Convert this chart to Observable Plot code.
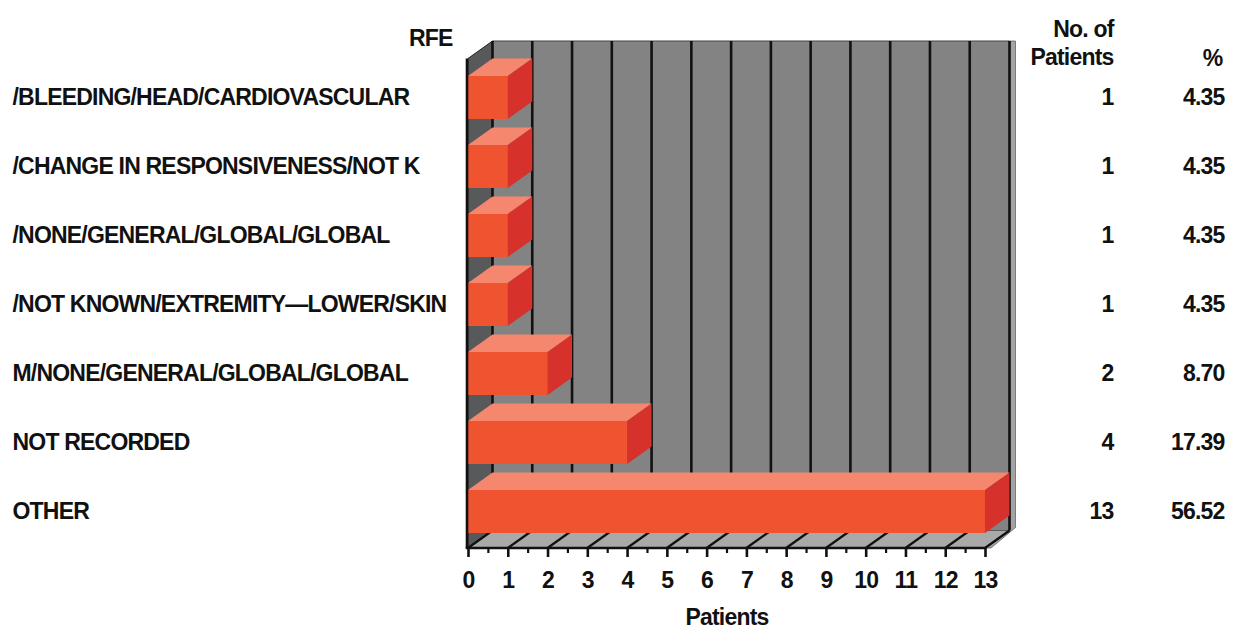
<!DOCTYPE html>
<html><head><meta charset="utf-8">
<script src="https://cdn.jsdelivr.net/npm/d3@7"></script>
<script src="https://cdn.jsdelivr.net/npm/@observablehq/plot@0.6"></script>
<style>
html,body{margin:0;padding:0;background:#fff;}
#chart svg{display:block;}
</style></head><body><div id="chart"></div>
<script>
const categories = [
  "/BLEEDING/HEAD/CARDIOVASCULAR",
  "/CHANGE IN RESPONSIVENESS/NOT K",
  "/NONE/GENERAL/GLOBAL/GLOBAL",
  "/NOT KNOWN/EXTREMITY\u2014LOWER/SKIN",
  "M/NONE/GENERAL/GLOBAL/GLOBAL",
  "NOT RECORDED",
  "OTHER"
];
const patients = [1, 1, 1, 1, 2, 4, 13];
const percents = ["4.35", "4.35", "4.35", "4.35", "8.70", "17.39", "56.52"];
const xTicks = [0,1,2,3,4,5,6,7,8,9,10,11,12,13];
const minorTicks = [0.5,1.5,2.5,3.5,4.5,5.5,6.5,7.5,8.5,9.5,10.5,11.5,12.5];
const yTitle = "RFE";
const countTitle = ["No. of", "Patients"];
const pctTitle = "%";
const xTitle = "Patients";

const rows = categories.map((rfe, i) => ({rfe, n: patients[i], pct: percents[i]}));

const DX = 24.5, DY = 17.5;
const FONT = "'Liberation Sans', Arial, Helvetica, sans-serif";
const C = {front: "#ef532f", top: "#f5876e", side: "#d7312b", back: "#838383", left: "#58595b", floor: "#a9a9a9", strip: "#a3a3a3", ink: "#111"};

function pts(a) { return a.map(p => p[0].toFixed(2) + "," + p[1].toFixed(2)).join(" "); }

function frameRender(index, scales, values, dimensions) {
  const x = scales.x, y = scales.y;
  const x0 = x(0), x1 = x(13);
  const fTop = y(categories[0]) - DY;
  const fBot = dimensions.height - dimensions.marginBottom;
  const g = d3.create("svg:g");
  const poly = (p, fill, stroke, sw) => g.append("polygon").attr("points", pts(p)).attr("fill", fill).attr("stroke", stroke || "none").attr("stroke-width", sw || 0).attr("stroke-linejoin", "round");
  poly([[x1 + DX, fTop - DY], [x1 + DX + 6, fTop - DY], [x1 + DX + 6, fBot - DY - 3], [x1 + 6, fBot], [x1, fBot], [x1 + DX, fBot - DY]], C.strip, "#666", 0.8);
  poly([[x0 + DX, fTop - DY], [x1 + DX, fTop - DY], [x1 + DX, fBot - DY], [x0 + DX, fBot - DY]], C.back, "#444", 1);
  poly([[x0, fTop], [x0 + DX, fTop - DY], [x0 + DX, fBot - DY], [x0, fBot]], C.left, "#222", 1);
  for (const i of index) {
    const xi = values.x[i];
    g.append("line").attr("x1", xi + DX).attr("x2", xi + DX).attr("y1", fTop - DY).attr("y2", fBot - DY)
      .attr("stroke", C.ink).attr("stroke-width", 2.6);
  }
  poly([[x0, fBot], [x1, fBot], [x1 + DX, fBot - DY], [x0 + DX, fBot - DY]], C.floor, "#555", 0.8);
  for (const i of index) {
    const xi = values.x[i];
    g.append("line").attr("x1", xi).attr("x2", xi + DX).attr("y1", fBot).attr("y2", fBot - DY)
      .attr("stroke", C.ink).attr("stroke-width", 2.2);
  }
  return g.node();
}

function frontEdgeRender(index, scales, values, dimensions) {
  const x = scales.x, y = scales.y;
  const x0 = x(0), x1 = x(13);
  const fTop = y(categories[0]) - DY;
  const fBot = dimensions.height - dimensions.marginBottom;
  const g = d3.create("svg:g");
  g.append("line").attr("x1", x0 - 1).attr("x2", x0 - 1).attr("y1", fTop).attr("y2", fBot)
    .attr("stroke", C.ink).attr("stroke-width", 2.6);
  g.append("line").attr("x1", x0 - 2.3).attr("x2", x1 + 1).attr("y1", fBot).attr("y2", fBot)
    .attr("stroke", C.ink).attr("stroke-width", 2.6);
  return g.node();
}

function barRender(index, scales, values, dimensions, context, next) {
  const g = next(index, scales, values, dimensions, context);
  const r = g.querySelector("rect");
  const bw = r ? +r.getAttribute("height") : 0;
  const sel = d3.select(g);
  for (const i of index) {
    const xa = values.x1[i], xb = values.x2[i], yt = values.y[i], yb = yt + bw;
    sel.append("polygon").attr("points", pts([[xa, yt], [xb, yt], [xb + DX, yt - DY], [xa + DX, yt - DY]])).attr("fill", C.top);
    sel.append("polygon").attr("points", pts([[xb, yt], [xb + DX, yt - DY], [xb + DX, yb - DY], [xb, yb]])).attr("fill", C.side);
  }
  return g;
}

const chart = Plot.plot({
  width: 1235,
  height: 639,
  marginTop: 0,
  marginLeft: 468,
  marginRight: 250,
  marginBottom: 91,
  style: {fontFamily: FONT, fontSize: "23px", fontWeight: "bold", color: C.ink, letterSpacing: "-0.8px", background: "#fff"},
  x: {domain: [0, 13], range: [468, 985], axis: null},
  y: {domain: categories, range: [75, 533], paddingInner: 0.378, paddingOuter: 0, axis: null},
  marks: [
    Plot.ruleX(xTicks, {x: d => d, render: frameRender}),
    Plot.barX(rows, {x1: 0, x2: "n", y: "rfe", fill: C.front, render: barRender}),
    Plot.ruleX([0], {x: d => d, render: frontEdgeRender}),
    Plot.axisX(xTicks, {tickSize: 9, tickPadding: 14, strokeWidth: 2.6, stroke: C.ink, fill: C.ink, label: null, fontSize: 23}),
    Plot.axisX(minorTicks, {tickSize: 5, tickFormat: () => "", strokeWidth: 2.2, stroke: C.ink, label: null}),
    Plot.text(rows, {y: "rfe", x: 0, text: "rfe", dx: -456, textAnchor: "start", fill: C.ink}),
    Plot.text(rows, {y: "rfe", x: 13, text: d => String(d.n), dx: 128, textAnchor: "end", fill: C.ink}),
    Plot.text(rows, {y: "rfe", x: 13, text: "pct", dx: 239, textAnchor: "end", fill: C.ink}),
    Plot.text([yTitle], {frameAnchor: "top-left", dx: -16, dy: 29, textAnchor: "end", fill: C.ink}),
    Plot.text([countTitle[0]], {frameAnchor: "top-right", dx: 128, dy: 20, textAnchor: "end", fill: C.ink}),
    Plot.text([countTitle[1]], {frameAnchor: "top-right", dx: 128, dy: 48, textAnchor: "end", fill: C.ink}),
    Plot.text([pctTitle], {frameAnchor: "top-right", dx: 237, dy: 49, textAnchor: "end", fill: C.ink}),
    Plot.text([xTitle], {x: 6.5, frameAnchor: "bottom", dy: 76, fill: C.ink})
  ]
});
document.getElementById("chart").appendChild(chart);
</script>
</body></html>
